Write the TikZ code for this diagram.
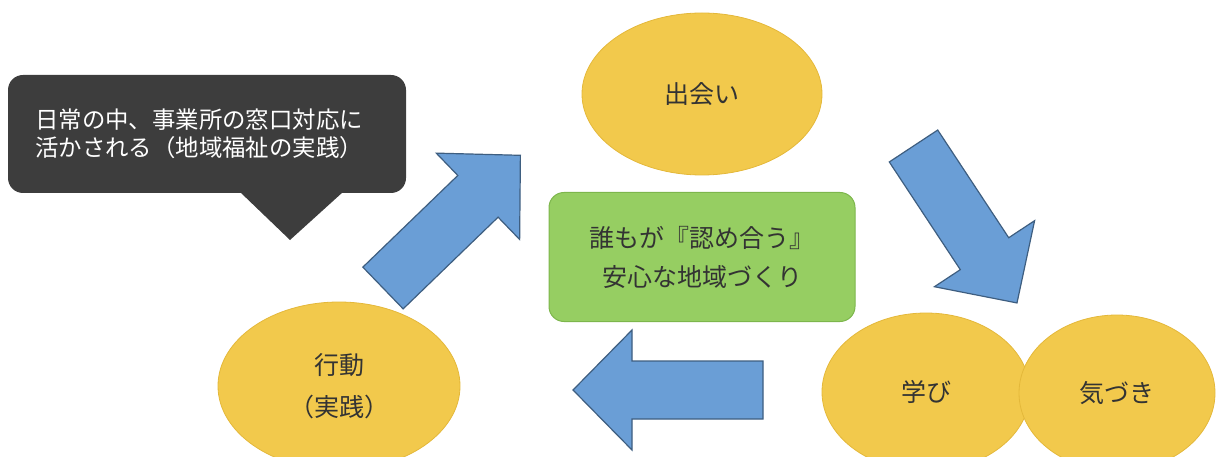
\documentclass[tikz,border=0pt]{standalone}
\usepackage{fontspec}
\setmainfont{Noto Sans CJK JP}
\usetikzlibrary{shapes.geometric}
\definecolor{calloutfill}{HTML}{3D3D3D}
\definecolor{ovalfill}{HTML}{F2C94C}
\definecolor{ovaledge}{HTML}{E4B83A}
\definecolor{greenfill}{HTML}{96CE62}
\definecolor{greenedge}{HTML}{7DB64C}
\definecolor{arrowfill}{HTML}{6A9ED6}
\definecolor{arrowedge}{HTML}{3E5E80}
\definecolor{inktext}{HTML}{333333}
\tikzset{
  oval/.style={ellipse, fill=ovalfill, draw=ovaledge, line width=0.8pt, text=inktext, align=center, inner sep=0pt},
  centerbox/.style={rounded corners=15pt, fill=greenfill, draw=greenedge, line width=1pt, text=inktext, align=center},
  bigarrow/.style={fill=arrowfill, draw=arrowedge, line width=1.2pt, line join=miter},
  ovaltext/.style={font=\fontsize{25}{42}\selectfont},
}
\newcommand{\blockarr}[3]{%
  \draw[bigarrow, shift={(#1)}, rotate=#2]
    (0,29) -- (#3-59,29) -- (#3-59,60) -- (#3,0) -- (#3-59,-60) -- (#3-59,-29) -- (0,-29) -- cycle;}
\begin{document}
\begin{tikzpicture}[x=1pt,y=-1pt]
\useasboundingbox (0,0) rectangle (1218,457);
% callout
\fill[calloutfill, rounded corners=15pt] (8,75) rectangle (406,193);
\fill[calloutfill] (240,192) -- (343,192) -- (290,240) -- cycle;
\node[anchor=west, text=white, align=left, font=\fontsize{23.4}{28}\selectfont, inner sep=0pt] (callout) at (35,134)
  {日常の中、事業所の窓口対応に\\活かされる（地域福祉の実践）};
% ovals
\node[oval, ovaltext, minimum width=240, minimum height=162] (meet) at (702,94) {出会い};
\node[oval, ovaltext, minimum width=242, minimum height=168] (act) at (339,386) {行動\\（実践）};
\node[oval, ovaltext, minimum width=208, minimum height=158] (learn) at (926,392) {学び};
\node[oval, ovaltext, minimum width=196, minimum height=156] (notice) at (1117,393) {気づき};
% center box
\node[centerbox, minimum width=306, minimum height=129, font=\fontsize{25}{39}\selectfont] (goal) at (702,257)
  {誰もが『認め合う』\\安心な地域づくり};
% arrows
\coordinate (a1) at (383,288);
\coordinate (a2) at (913.5,146);
\coordinate (a3) at (763,390);
\blockarr{a1}{44}{191}
\blockarr{a2}{-56.6}{188}
\blockarr{a3}{180}{190}
\end{tikzpicture}
\end{document}
